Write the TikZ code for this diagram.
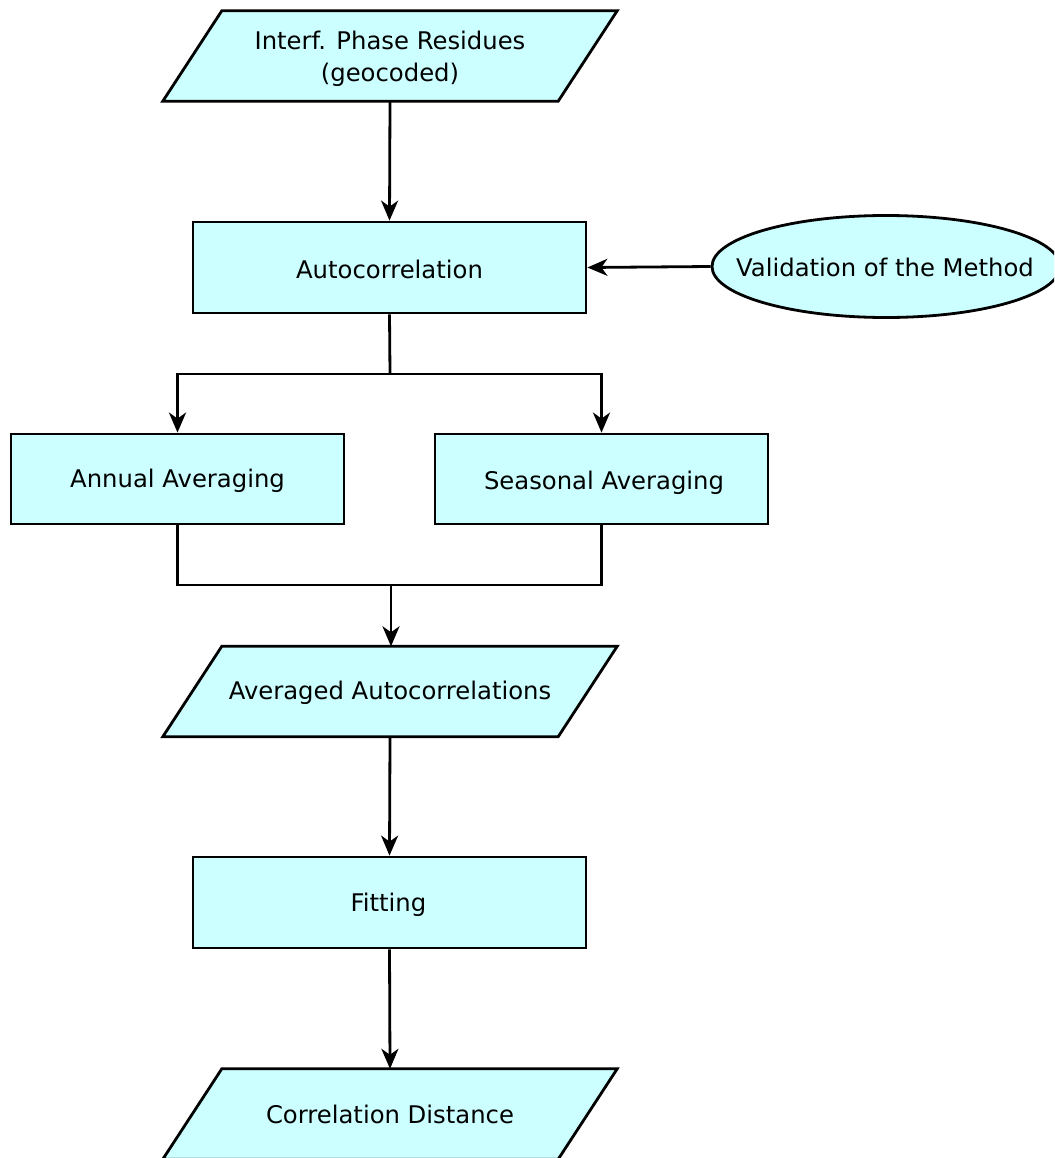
\documentclass[tikz,border=0pt]{standalone}
\usepackage{fontspec}
\setmainfont{DejaVu Sans}
\usetikzlibrary{shapes.geometric,arrows.meta}
\definecolor{boxfill}{HTML}{CCFFFF}
\tikzset{
  base/.style={font=\fontsize{24.3}{32}\selectfont, align=center, inner sep=0pt},
  procbox/.style={base, draw, fill=boxfill, line width=2.8pt, minimum width=393pt, minimum height=91pt},
  smallbox/.style={base, draw, fill=boxfill, line width=2.8pt, minimum width=333pt, minimum height=90pt},
  iobox/.style={base, minimum width=395pt, minimum height=90pt},
  ovalbox/.style={ellipse, draw, fill=boxfill, line width=2.8pt, inner sep=0pt, minimum width=348pt, minimum height=102pt},
  conn/.style={line width=2.8pt},
  arr/.style={conn, -{Stealth[length=20pt,width=17pt,inset=6pt]}},
  para/.style={draw, fill=boxfill, line width=2.8pt, line join=miter}
}
\newcommand{\mypara}[1]{%
  \path[para] ([xshift=29.5pt]#1.north west) -- ([xshift=29.5pt]#1.north east)
    -- ([xshift=-29.5pt]#1.south east) -- ([xshift=-29.5pt]#1.south west) -- cycle;}
\begin{document}
\begin{tikzpicture}[x=1pt,y=-1pt]
\useasboundingbox (0,0) rectangle (1054,1158);
\clip (0,0) rectangle (1054,1158);

\node[iobox] (in) at (390,56) {};
\mypara{in}
\node[base] at (390,59) {Interf. Phase Residues\\(geocoded)};

\node[procbox] (auto) at (389.5,267.5) {};
\node[base] at (389.5,269) {Autocorrelation};
\node[ovalbox] (val) at (886,266.5) {};
\node[base] at (885,267) {Validation of the Method};

\node[smallbox] (ann) at (177.5,479) {};
\node[base] at (177.5,481) {Annual Averaging};
\node[smallbox] (sea) at (601.5,479) {};
\node[base] at (604,483) {Seasonal Averaging};

\node[iobox] (avg) at (390,691.5) {};
\mypara{avg}
\node[base] at (390,693) {Averaged Autocorrelations};

\node[procbox] (fit) at (389.5,902.5) {};
\node[base] at (388.5,905) {Fitting};

\node[iobox] (out) at (390,1114) {};
\mypara{out}
\node[base] at (390,1114) {Correlation Distance};

\coordinate (split) at (390,374);
\coordinate (merge) at (391,585);

\draw[arr] (in.south) -- (auto.north);
\draw[arr] (val.west) -- (auto.east);
\draw[conn] (auto.south) -- (split);
\draw[arr] (split) -| (ann.north);
\draw[arr] (split) -| (sea.north);
\draw[conn] (ann.south) |- (merge);
\draw[conn] (sea.south) |- (merge);
\draw[arr] (merge) -- (merge |- avg.north);
\draw[arr] (avg.south) -- (fit.north);
\draw[arr] (fit.south) -- (out.north);
\end{tikzpicture}
\end{document}
